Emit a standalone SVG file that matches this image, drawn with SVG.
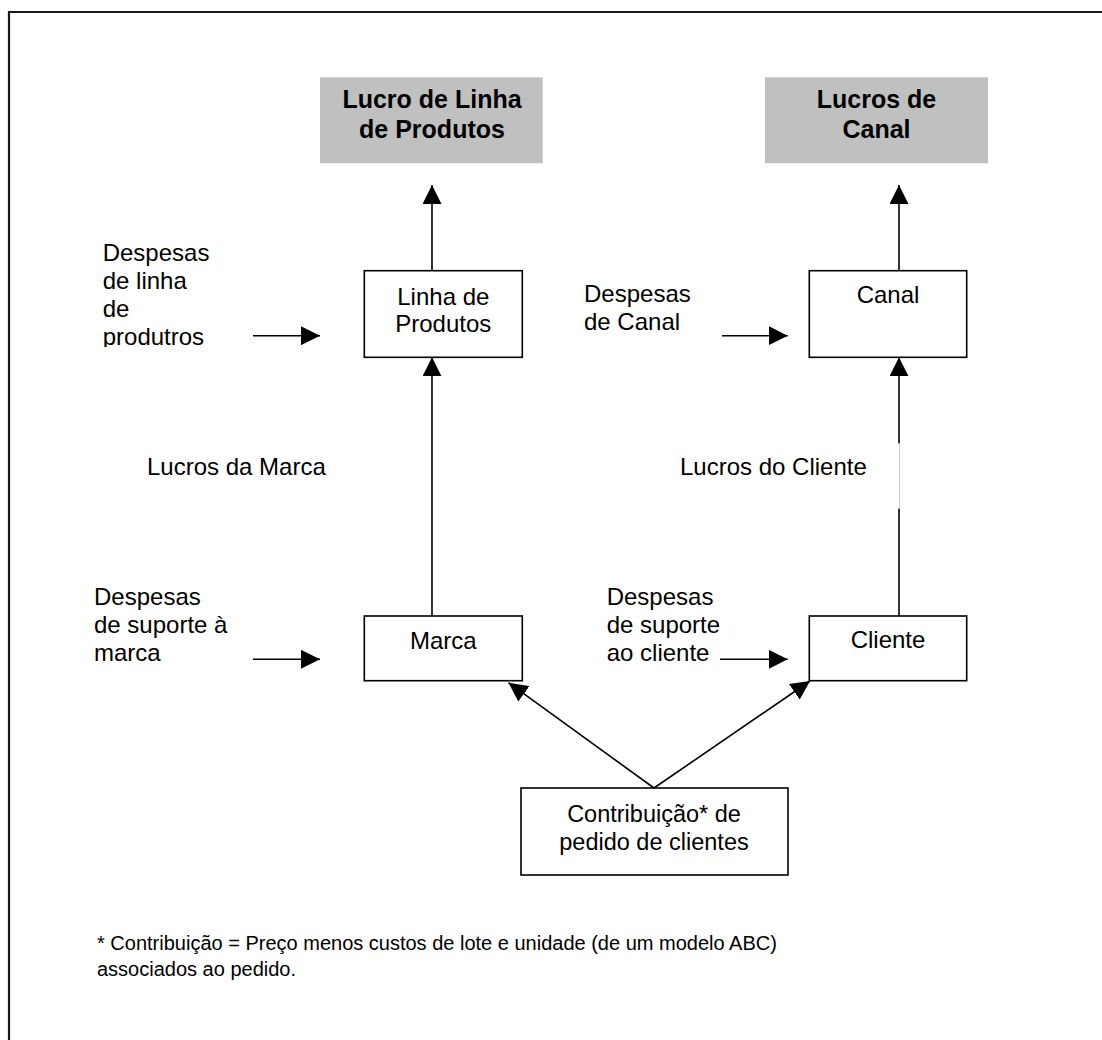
<svg xmlns="http://www.w3.org/2000/svg" width="1102" height="1040" viewBox="0 0 1102 1040">
  <style>
    text { font-family: "Liberation Sans", Arial, Helvetica, sans-serif; fill: #000; }
    .lbl { font-size: 24px; }
    .ctr { text-anchor: middle; }
    .head { font-size: 25px; font-weight: bold; text-anchor: middle; }
    .box { fill: #fff; stroke: #000; stroke-width: 1.6; }
    .grey { fill: #c0c0c0; }
    .con { stroke: #000; stroke-width: 1.6; fill: none; marker-end: url(#ah); }
    .note { font-size: 20px; }
  </style>
  <defs>
    <marker id="ah" markerUnits="userSpaceOnUse" viewBox="0 0 19 19" refX="19" refY="9.5" markerWidth="19" markerHeight="19" orient="auto">
      <path d="M0,0 L19,9.5 L0,19 z" fill="#000"/>
    </marker>
    <clipPath id="clipLinhaExp">
      <rect x="90" y="230" width="160" height="117"/>
    </clipPath>
  </defs>

  <rect width="1102" height="1040" fill="#fff"/>
  <!-- page frame -->
  <path d="M9,1040 V12 H1102" fill="none" stroke="#1a1a1a" stroke-width="2.2"/>

  <!-- connectors -->
  <g id="connectors">
    <line class="con" x1="432" y1="270.7" x2="432" y2="185"/>
    <line class="con" x1="899" y1="270.7" x2="899" y2="185"/>
    <line class="con" x1="432" y1="616" x2="432" y2="357.3"/>
    <polyline class="con" points="899,616 899,357.3"/>
    <line class="con" x1="253" y1="335.7" x2="320" y2="335.7"/>
    <line class="con" x1="722" y1="335.7" x2="787.7" y2="335.7"/>
    <line class="con" x1="253" y1="659.3" x2="320" y2="659.3"/>
    <line class="con" x1="720" y1="659.3" x2="787.7" y2="659.3"/>
    <line class="con" x1="654" y1="788" x2="508.5" y2="682.7"/>
    <line class="con" x1="654" y1="788" x2="810" y2="681"/>
  </g>

  <!-- label area over the client-profit line -->
  <g id="lucros-cliente">
    <rect x="895" y="443.5" width="8" height="65" fill="#fff"/>
    <line x1="899.5" y1="443.5" x2="899.5" y2="508.5" stroke="#c8c8c8" stroke-width="1"/>
    <text class="lbl" x="680" y="475">Lucros do Cliente</text>
  </g>

  <g id="lucros-marca">
    <text class="lbl" x="147" y="475">Lucros da Marca</text>
  </g>

  <g id="lucro-linha-produtos">
    <rect class="grey" x="320" y="77.3" width="222.7" height="86"/>
    <text class="head" x="432" y="108.3">Lucro de Linha</text>
    <text class="head" x="432" y="138.3">de Produtos</text>
  </g>

  <g id="lucros-canal">
    <rect class="grey" x="765" y="77.3" width="223" height="86"/>
    <text class="head" x="876.5" y="108.3">Lucros de</text>
    <text class="head" x="876.5" y="138.3">Canal</text>
  </g>

  <g id="linha-produtos">
    <rect class="box" x="364.3" y="270.7" width="158" height="86.6"/>
    <text class="lbl ctr" x="443.3" y="305">Linha de</text>
    <text class="lbl ctr" x="443.3" y="331.7">Produtos</text>
  </g>

  <g id="canal">
    <rect class="box" x="809.3" y="270.7" width="157.4" height="86.6"/>
    <text class="lbl ctr" x="888" y="303.3">Canal</text>
  </g>

  <g id="marca">
    <rect class="box" x="364.3" y="616" width="158" height="64.7"/>
    <text class="lbl ctr" x="443.3" y="649.3">Marca</text>
  </g>

  <g id="cliente">
    <rect class="box" x="809.3" y="616" width="157.4" height="64.7"/>
    <text class="lbl ctr" x="888" y="648">Cliente</text>
  </g>

  <g id="contribuicao">
    <rect class="box" x="521" y="788" width="267" height="87"/>
    <text class="lbl ctr" x="654" y="821.7" style="font-size:23.5px">Contribuição* de</text>
    <text class="lbl ctr" x="654" y="850" style="font-size:23.5px">pedido de clientes</text>
  </g>

  <g id="despesas-linha">
    <g clip-path="url(#clipLinhaExp)">
      <text class="lbl" x="102.7" y="260.7">Despesas</text>
      <text class="lbl" x="102.7" y="289">de linha</text>
      <text class="lbl" x="102.7" y="316.7">de</text>
      <text class="lbl" x="102.7" y="345">produtros</text>
    </g>
  </g>

  <g id="despesas-canal">
    <text class="lbl" x="584" y="301.7">Despesas</text>
    <text class="lbl" x="584" y="330">de Canal</text>
  </g>

  <g id="despesas-marca">
    <text class="lbl" x="94" y="605">Despesas</text>
    <text class="lbl" x="94" y="632.7">de suporte à</text>
    <text class="lbl" x="94" y="660.7">marca</text>
  </g>

  <g id="despesas-cliente">
    <text class="lbl" x="606.7" y="605">Despesas</text>
    <text class="lbl" x="606.7" y="632.7">de suporte</text>
    <text class="lbl" x="606.7" y="660.7">ao cliente</text>
  </g>

  <g id="nota">
    <text class="note" x="97" y="950">* Contribuição = Preço menos custos de lote e unidade (de um modelo ABC)</text>
    <text class="note" x="97" y="976">associados ao pedido.</text>
  </g>
</svg>
